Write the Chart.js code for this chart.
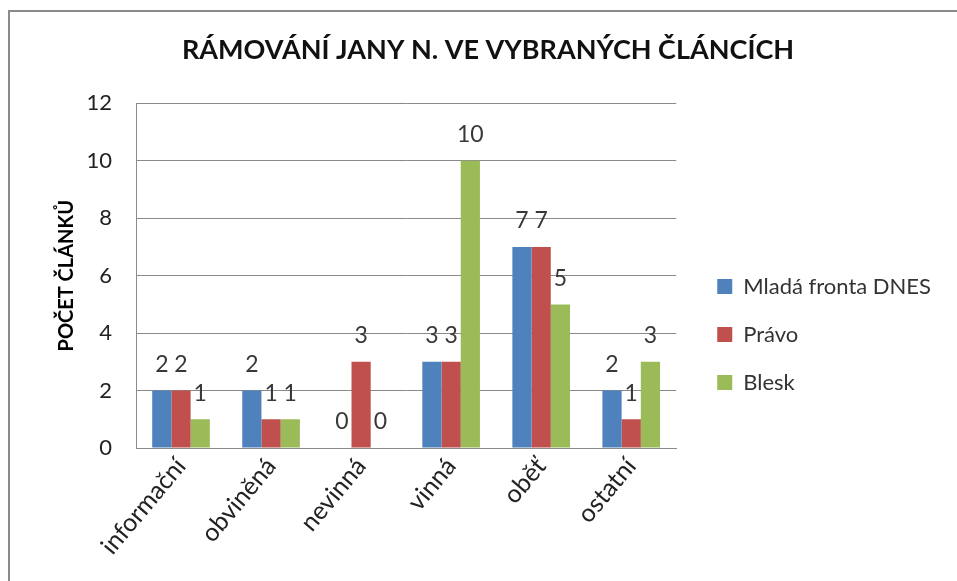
<!DOCTYPE html>
<html>
<head>
<meta charset="utf-8">
<script src="https://cdn.jsdelivr.net/npm/chart.js@4"></script>
<style>
  body { margin: 0; background: #fff; }
  #frame { position: absolute; left: 8px; top: 10px; width: 1000px; height: 600px;
           border-left: 2px solid #8a8a8a; border-top: 2px solid #8a8a8a; }
  #wrap { position: absolute; left: 0; top: 0; width: 957px; height: 581px; }
</style>
</head>
<body>
<div id="frame"></div>
<div id="wrap"><canvas id="graph1"></canvas></div>
<script>
// categories and series
const categories = ['informační', 'obviněná', 'nevinná', 'vinná', 'oběť', 'ostatní'];
const mfDnes = [2, 2, 0, 3, 7, 2];
const pravo = [2, 1, 3, 3, 7, 1];
const blesk = [1, 1, 0, 10, 5, 3];
const yTicks = [0, 2, 4, 6, 8, 10, 12];

const FONT = "Lato, 'Open Sans', sans-serif";

// value labels above every bar
const valueLabels = {
  id: 'valueLabels',
  afterDatasetsDraw(chart) {
    const ctx = chart.ctx;
    ctx.save();
    ctx.font = '23px ' + FONT;
    ctx.fillStyle = '#383838';
    ctx.textAlign = 'center';
    ctx.textBaseline = 'middle';
    chart.data.datasets.forEach((ds, i) => {
      chart.getDatasetMeta(i).data.forEach((bar, j) => {
        ctx.fillText(ds.data[j], bar.x, bar.y - 26);
      });
    });
    ctx.restore();
  }
};

// nudge the legend a bit right and down, like in the original
const legendNudge = {
  id: 'legendNudge',
  afterLayout(chart) {
    const lg = chart.legend;
    lg.left += 15; lg.right += 15;
    lg.top += 32; lg.bottom += 32;
  }
};

function drawChart() {
  const ctx1 = document.getElementById('graph1').getContext('2d');
  new Chart(ctx1, {
    type: 'bar',
    data: {
      labels: categories,
      datasets: [
        { label: 'Mladá fronta DNES', data: mfDnes, backgroundColor: '#4F81BD' },
        { label: 'Právo', data: pravo, backgroundColor: '#C0504D' },
        { label: 'Blesk', data: blesk, backgroundColor: '#9BBB59' }
      ]
    },
    options: {
      responsive: true,
      maintainAspectRatio: false,
      animation: false,
      layout: { padding: { left: 50, right: 31, top: 24, bottom: 0 } },
      datasets: { bar: { barPercentage: 1, categoryPercentage: 0.64 } },
      plugins: {
        title: {
          display: true,
          text: 'RÁMOVÁNÍ JANY N. VE VYBRANÝCH ČLÁNCÍCH',
          font: { family: FONT, size: 27, weight: 'bold' },
          color: '#111',
          padding: { top: 10, bottom: 37 }
        },
        legend: {
          position: 'right',
          maxWidth: 281,
          labels: {
            font: { family: FONT, size: 22 },
            color: '#333',
            boxWidth: 15,
            boxHeight: 15,
            padding: 26
          }
        },
        tooltip: { enabled: false }
      },
      scales: {
        x: {
          afterFit: axis => { axis.height = 133; },
          grid: { display: false, drawTicks: false },
          border: { color: '#8a8a8a' },
          ticks: {
            font: { family: FONT, size: 25 },
            color: '#222',
            maxRotation: 50,
            minRotation: 50,
            padding: 4
          }
        },
        y: {
          min: 0,
          max: 12,
          afterFit: axis => { axis.width = 86; },
          afterBuildTicks: axis => { axis.ticks = yTicks.map(v => ({ value: v })); },
          grid: { color: '#8a8a8a', drawTicks: false },
          border: { color: '#8a8a8a' },
          ticks: {
            font: { family: FONT, size: 22 },
            color: '#222',
            padding: 24
          },
          title: {
            display: true,
            text: 'POČET ČLÁNKŮ',
            font: { family: FONT, size: 20, weight: 'bold' },
            color: '#000',
            padding: { top: 5, bottom: 0 }
          }
        }
      }
    },
    plugins: [valueLabels, legendNudge]
  });
}

document.addEventListener('DOMContentLoaded', () => {
  // make sure Lato is ready before Chart.js measures text
  Promise.all([
    document.fonts.load('22px Lato', 'ÁČŮ'),
    document.fonts.load('bold 27px Lato', 'ÁČŮ')
  ]).then(drawChart, drawChart);
});
</script>
</body>
</html>
